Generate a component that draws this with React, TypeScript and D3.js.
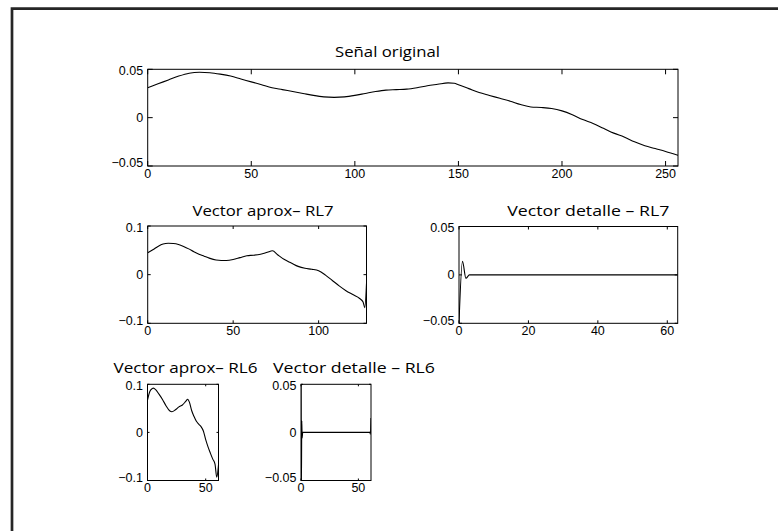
import React from "react";
import * as d3 from "d3";

// ---------- data ----------
const origX = [0, 5, 10, 15, 20, 25, 30, 35, 40, 45, 50, 55, 60, 65, 70, 75, 80, 85, 90, 95, 100, 105, 110, 115, 120, 125, 130, 135, 140, 145, 148, 150, 155, 160, 165, 170, 175, 180, 185, 190, 195, 200, 205, 210, 215, 220, 225, 230, 235, 240, 245, 250, 256];
const origY = [0.031, 0.035, 0.039, 0.043, 0.046, 0.047, 0.0465, 0.045, 0.043, 0.04, 0.037, 0.034, 0.031, 0.029, 0.027, 0.025, 0.023, 0.0215, 0.021, 0.0215, 0.023, 0.025, 0.027, 0.0285, 0.029, 0.0295, 0.031, 0.033, 0.0345, 0.036, 0.0355, 0.034, 0.03, 0.026, 0.023, 0.02, 0.017, 0.0135, 0.011, 0.0105, 0.0095, 0.007, 0.003, -0.002, -0.006, -0.011, -0.016, -0.02, -0.025, -0.029, -0.032, -0.035, -0.039];
const origXTicks = [0, 50, 100, 150, 200, 250];
const origYTicks = [-0.05, 0, 0.05];

const aprox7X = [0, 3, 6, 9, 12, 15, 18, 21, 24, 27, 30, 33, 36, 40, 43, 46, 50, 54, 58, 62, 66, 70, 73, 76, 80, 84, 88, 92, 96, 100, 104, 108, 112, 116, 120, 124, 126, 127, 128];
const aprox7Y = [0.045, 0.051, 0.058, 0.063, 0.0645, 0.064, 0.062, 0.058, 0.053, 0.047, 0.042, 0.038, 0.034, 0.03, 0.029, 0.029, 0.031, 0.035, 0.039, 0.04, 0.042, 0.046, 0.049, 0.041, 0.031, 0.024, 0.017, 0.013, 0.011, 0.008, -0.001, -0.012, -0.023, -0.033, -0.041, -0.049, -0.056, -0.068, -0.018];
const aprox7XTicks = [0, 50, 100];
const aprox7YTicks = [-0.1, 0, 0.1];

const det7X = [0, 1, 2, 3, 4, 10, 20, 30, 40, 50, 60, 63];
const det7Y = [-0.05, 0.014, -0.0035, 0, 0, 0, 0, 0, 0, 0, 0, 0];
const det7XTicks = [0, 20, 40, 60];
const det7YTicks = [-0.05, 0, 0.05];

const aprox6X = [0, 2, 4, 5, 7, 10, 13, 16, 19, 21, 24, 27, 30, 33, 34.5, 36, 38, 40, 42, 44, 46, 48, 50, 52, 54, 56, 58, 59.5, 61];
const aprox6Y = [0.067, 0.085, 0.091, 0.092, 0.089, 0.079, 0.068, 0.055, 0.045, 0.043, 0.047, 0.053, 0.057, 0.065, 0.069, 0.063, 0.045, 0.033, 0.023, 0.017, 0.012, 0.003, -0.015, -0.03, -0.043, -0.055, -0.066, -0.093, -0.068];
const aprox6XTicks = [0, 50];
const aprox6YTicks = [-0.1, 0, 0.1];

const det6X = [0, 0.3, 0.7, 1, 1.5, 10, 20, 30, 40, 50, 60, 60.5, 61];
const det6Y = [0.06, -0.06, 0.012, -0.006, 0, 0, 0, 0, 0, 0, 0, -0.002, 0.015];
const det6XTicks = [0, 50];
const det6YTicks = [-0.05, 0, 0.05];

// ---------- layout ----------
type Panel = {
  id: string;
  title: string;
  xs: number[];
  ys: number[];
  xDomain: [number, number];
  yDomain: [number, number];
  xTicks: number[];
  yTicks: number[];
  l: number; t: number; r: number; b: number;
  tick: number;
  titleX: number; titleY: number; titleW: number;
};

const panels: Panel[] = [
  { id: "p1", title: "Señal original", xs: origX, ys: origY, xDomain: [0, 256], yDomain: [-0.05, 0.05], xTicks: origXTicks, yTicks: origYTicks, l: 147.7, t: 69.3, r: 678, b: 166, tick: 5, titleX: 387.5, titleY: 57.3, titleW: 105 },
  { id: "p2", title: "Vector aprox– RL7", xs: aprox7X, ys: aprox7Y, xDomain: [0, 128], yDomain: [-0.1, 0.1], xTicks: aprox7XTicks, yTicks: aprox7YTicks, l: 147.7, t: 226, r: 366.5, b: 323.3, tick: 3, titleX: 263, titleY: 215.5, titleW: 141 },
  { id: "p3", title: "Vector detalle – RL7", xs: det7X, ys: det7Y, xDomain: [0, 63], yDomain: [-0.05, 0.05], xTicks: det7XTicks, yTicks: det7YTicks, l: 459, t: 226.5, r: 677.7, b: 323.3, tick: 3, titleX: 588.3, titleY: 215.5, titleW: 162 },
  { id: "p4", title: "Vector aprox– RL6", xs: aprox6X, ys: aprox6Y, xDomain: [0, 61], yDomain: [-0.1, 0.1], xTicks: aprox6XTicks, yTicks: aprox6YTicks, l: 147.5, t: 384.3, r: 218.5, b: 480.5, tick: 2, titleX: 185.5, titleY: 372.7, titleW: 144 },
  { id: "p5", title: "Vector detalle – RL6", xs: det6X, ys: det6Y, xDomain: [0, 61], yDomain: [-0.05, 0.05], xTicks: det6XTicks, yTicks: det6YTicks, l: 301, t: 384.3, r: 371, b: 480.5, tick: 2, titleX: 354, titleY: 372.7, titleW: 162 },
];

const fmt = (v: number) => (v < 0 ? "\u2212" + String(Math.abs(v)) : String(v));

const TICK_FONT = "'Liberation Sans', Arial, Helvetica, sans-serif";
const TITLE_FONT = "'Open Sans', 'Noto Sans', sans-serif";
const TICK_SIZE = 12.5;

function PanelView({ p }: { p: Panel }) {
  const x = d3.scaleLinear().domain(p.xDomain).range([p.l, p.r]);
  const y = d3.scaleLinear().domain(p.yDomain).range([p.b, p.t]);
  const pts: [number, number][] = p.xs.map((v, i) => [v, p.ys[i]]);
  const line = d3
    .line<[number, number]>()
    .x((d) => x(d[0]))
    .y((d) => y(d[1]))
    .curve(d3.curveMonotoneX);
  const yMin = p.yDomain[0];
  const yMax = p.yDomain[1];
  return (
    <g>
      <defs>
        <clipPath id={"clip-" + p.id}>
          <rect x={p.l} y={p.t} width={p.r - p.l} height={p.b - p.t} />
        </clipPath>
      </defs>
      <rect x={p.l} y={p.t} width={p.r - p.l} height={p.b - p.t} fill="#fff" stroke="none" />
      <path d={line(pts) || ""} fill="none" stroke="#000" strokeWidth={1.1} clipPath={`url(#clip-${p.id})`} />
      <rect x={p.l} y={p.t} width={p.r - p.l} height={p.b - p.t} fill="none" stroke="#000" strokeWidth={1} />
      {p.xTicks.map((v) => (
        <g key={"x" + v}>
          <line x1={x(v)} x2={x(v)} y1={p.b} y2={p.b - p.tick} stroke="#000" strokeWidth={1} />
          <line x1={x(v)} x2={x(v)} y1={p.t} y2={p.t + p.tick} stroke="#000" strokeWidth={1} />
          <text x={x(v)} y={p.b + 11.5} textAnchor="middle" fontFamily={TICK_FONT} fontSize={TICK_SIZE} fill="#000">
            {fmt(v)}
          </text>
        </g>
      ))}
      {p.yTicks.map((v) => {
        const yy = y(v);
        const off = v === yMin ? -3 : v === yMax ? 1.5 : 0;
        return (
          <g key={"y" + v}>
            <line x1={p.l} x2={p.l + p.tick} y1={yy} y2={yy} stroke="#000" strokeWidth={1} />
            <line x1={p.r} x2={p.r - p.tick} y1={yy} y2={yy} stroke="#000" strokeWidth={1} />
            <text x={p.l - 4.5} y={yy + off + 4.3} textAnchor="end" fontFamily={TICK_FONT} fontSize={TICK_SIZE} fill="#000">
              {fmt(v)}
            </text>
          </g>
        );
      })}
      <text
        x={p.titleX}
        y={p.titleY}
        textAnchor="middle"
        fontFamily={TITLE_FONT}
        fontSize={14.5}
        fill="#000"
        textLength={p.titleW}
        lengthAdjust="spacingAndGlyphs"
      >
        {p.title}
      </text>
    </g>
  );
}

export default function App() {
  return (
    <svg
      width={778}
      height={531}
      viewBox="0 0 778 531"
      style={{ position: "absolute", left: 0, top: 0, background: "#fff" }}
    >
      <rect x={0} y={0} width={778} height={531} fill="#fff" />
      <path d="M 12 531 L 12 8.7 L 778 8.7" fill="none" stroke="#262626" strokeWidth={2.7} />
      {panels.map((p) => (
        <PanelView key={p.id} p={p} />
      ))}
    </svg>
  );
}
